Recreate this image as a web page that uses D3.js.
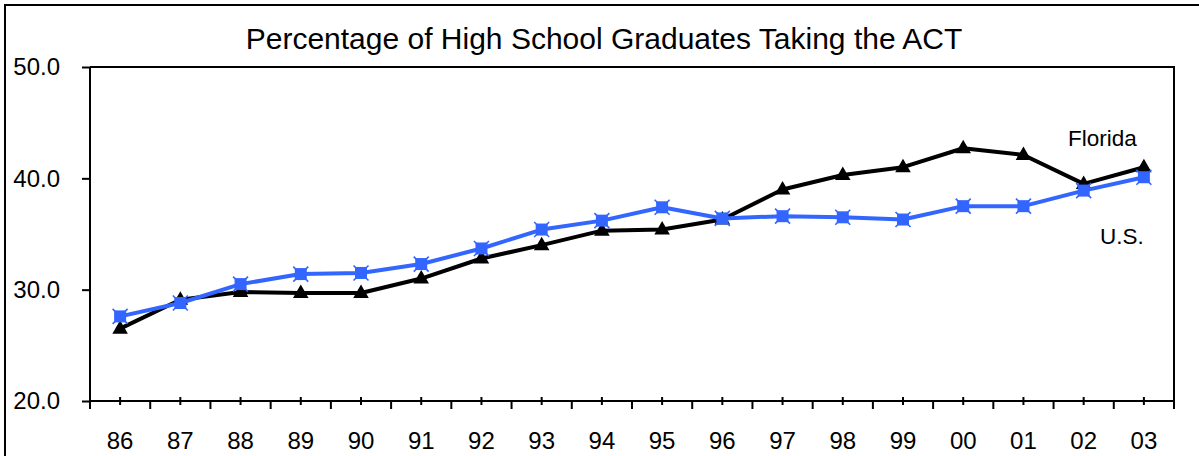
<!DOCTYPE html>
<html>
<head>
<meta charset="utf-8">
<script src="https://cdn.jsdelivr.net/npm/d3@7"></script>
<style>
  html, body { margin: 0; padding: 0; background: #fff; }
  svg { display: block; font-family: "Liberation Sans", Arial, sans-serif; }
</style>
</head>
<body>
<svg id="chart" width="1199" height="456"></svg>
<script>
const years = ["86","87","88","89","90","91","92","93","94","95","96","97","98","99","00","01","02","03"];
const florida = [26.5, 29.1, 29.8, 29.7, 29.7, 31.0, 32.8, 34.0, 35.3, 35.4, 36.3, 39.0, 40.3, 41.0, 42.7, 42.1, 39.5, 41.0];
const us = [27.6, 28.8, 30.5, 31.4, 31.5, 32.3, 33.7, 35.4, 36.2, 37.4, 36.4, 36.6, 36.5, 36.3, 37.5, 37.5, 38.9, 40.1];
const yTicks = [20, 30, 40, 50];
const title = "Percentage of High School Graduates Taking the ACT";
const seriesLabels = ["Florida", "U.S."];

const svg = d3.select("#chart");
const plot = { left: 90, right: 1174, top: 67, bottom: 401 };

const x = d3.scaleBand().domain(years).range([plot.left, plot.right]).padding(0);
const y = d3.scaleLinear().domain([20, 50]).range([plot.bottom, plot.top]);

// outer frame
svg.append("rect").attr("x", 5).attr("y", 5).attr("width", 1220).attr("height", 480)
  .attr("fill", "none").attr("stroke", "#000").attr("stroke-width", 2);

// title
svg.append("text").attr("x", 604).attr("y", 49).attr("text-anchor", "middle")
  .attr("font-size", 30).attr("fill", "#000").text(title);

// plot box top & right
svg.append("path")
  .attr("d", `M${plot.left},${plot.top}H${plot.right}V${plot.bottom}`)
  .attr("fill", "none").attr("stroke", "#000").attr("stroke-width", 2);

// y axis
const yAxis = svg.append("g").attr("transform", `translate(${plot.left},0)`)
  .call(d3.axisLeft(y).tickValues(yTicks).tickFormat(d3.format(".1f")).tickSize(8).tickPadding(22));
yAxis.select(".domain").attr("stroke-width", 2).attr("d", `M0,${plot.top}V${plot.bottom}`);
yAxis.selectAll(".tick line").attr("stroke-width", 2);
yAxis.selectAll(".tick text").attr("font-size", 24).attr("font-family", "Liberation Sans, Arial, sans-serif").attr("fill", "#000");

// x axis
const xAxis = svg.append("g").attr("transform", `translate(0,${plot.bottom})`)
  .call(d3.axisBottom(x).tickSize(4).tickPadding(27));
xAxis.select(".domain").attr("stroke-width", 2).attr("d", `M${plot.left},0H${plot.right}`);
xAxis.selectAll(".tick line").attr("stroke-width", 2).attr("y1", -4).attr("y2", 4);
xAxis.selectAll(".tick text").attr("font-size", 24).attr("font-family", "Liberation Sans, Arial, sans-serif").attr("fill", "#000");
// boundary ticks
const bounds = years.map(d => x(d)).concat([x.range()[1]]);
xAxis.selectAll(".btick").data(bounds).enter().append("line")
  .attr("x1", d => d).attr("x2", d => d).attr("y1", 0).attr("y2", 8)
  .attr("stroke", "#000").attr("stroke-width", 2);

const cx = d => x(d) + x.bandwidth() / 2;
const line = d3.line().x((d, i) => cx(years[i])).y(d => y(d));

// Florida
svg.append("path").datum(florida).attr("d", line)
  .attr("fill", "none").attr("stroke", "#000").attr("stroke-width", 4).attr("stroke-linejoin", "round");
const tri = d3.symbol().type(d3.symbolTriangle).size(105);
svg.append("g").selectAll("path").data(florida).enter().append("path")
  .attr("d", tri)
  .attr("transform", (d, i) => `translate(${cx(years[i])},${y(d) + 0.5})`)
  .attr("fill", "#000");

// U.S.
const blue = "#3366ff";
svg.append("path").datum(us).attr("d", line)
  .attr("fill", "none").attr("stroke", blue).attr("stroke-width", 4).attr("stroke-linejoin", "round");
const mk = svg.append("g").selectAll("g").data(us).enter().append("g")
  .attr("transform", (d, i) => `translate(${cx(years[i])},${y(d)})`);
mk.append("rect").attr("x", -6).attr("y", -6).attr("width", 12).attr("height", 12).attr("fill", blue);
mk.append("path").attr("d", "M-7.5,-7.5L7.5,7.5M-7.5,7.5L7.5,-7.5").attr("stroke", blue).attr("stroke-width", 1.6);

// series labels
svg.append("text").attr("x", 1068).attr("y", 146).attr("font-size", 22.5).attr("fill", "#000").text(seriesLabels[0]);
svg.append("text").attr("x", 1100).attr("y", 244).attr("font-size", 22.5).attr("fill", "#000").text(seriesLabels[1]);
</script>
</body>
</html>
